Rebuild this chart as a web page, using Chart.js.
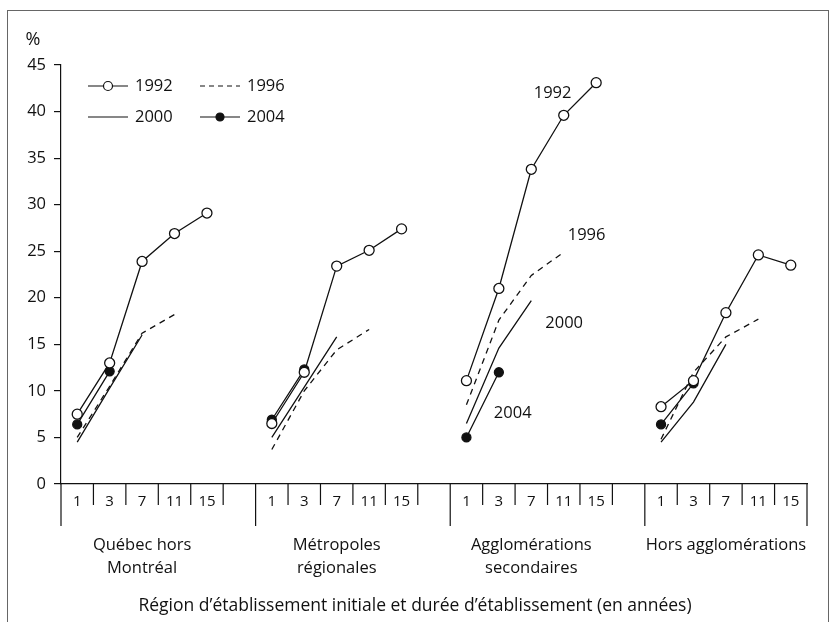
<!DOCTYPE html>
<html lang="fr">
<head>
    <meta charset="UTF-8">
    <title>Graphique</title>
    <script src="https://cdn.jsdelivr.net/npm/chart.js"></script>
    <style>
        body { margin: 0; background: #fff; }
        .frame {
            position: absolute; left: 7px; top: 10px; width: 822px; height: 620px;
            border: 1.5px solid #666; border-bottom: none; box-sizing: border-box;
        }
        .chart-container { position: absolute; left: 0; top: 0; width: 832px; height: 622px; }
    </style>
</head>
<body>
    <div class="frame"></div>
    <div class="chart-container">
        <canvas id="chart"></canvas>
    </div>

    <script>
        // durée d'établissement (en années), un bloc par région, case vide entre les blocs
        const categories = ['1', '3', '7', '11', '15', '',
                            '1', '3', '7', '11', '15', '',
                            '1', '3', '7', '11', '15', '',
                            '1', '3', '7', '11', '15'];
        const groupStarts = [0, 6, 12, 18];
        const groupLabels = [['Québec hors', 'Montréal'], ['Métropoles', 'régionales'],
                             ['Agglomérations', 'secondaires'], ['Hors agglomérations']];

        const s1992 = [7.5, 13.0, 23.9, 26.9, 29.1, null,
                       6.5, 12.0, 23.4, 25.1, 27.4, null,
                       11.1, 21.0, 33.8, 39.6, 43.1, null,
                       8.3, 11.1, 18.4, 24.6, 23.5];
        const s1996 = [5.0, 10.5, 16.2, 18.2, null, null,
                       3.7, 10.0, 14.4, 16.6, null, null,
                       8.5, 17.6, 22.4, 24.9, null, null,
                       4.8, 12.0, 15.8, 17.7, null];
        const s2000 = [4.5, 10.3, 16.0, null, null, null,
                       5.0, 10.4, 15.8, null, null, null,
                       6.5, 14.6, 19.7, null, null, null,
                       4.5, 8.8, 15.0, null, null];
        const s2004 = [6.4, 12.1, null, null, null, null,
                       6.9, 12.3, null, null, null, null,
                       5.0, 12.0, null, null, null, null,
                       6.4, 10.8, null, null, null];

        const FONT = "'Open Sans', sans-serif";
        const INK = '#111';

        // étiquettes des séries dans le bloc « Agglomérations secondaires »
        const seriesTags = [
            { text: '1992', ds: 0, idx: 15, dx: -30, dy: -22 },
            { text: '1996', ds: 1, idx: 15, dx: 4, dy: -17 },
            { text: '2000', ds: 2, idx: 14, dx: 14, dy: 23 },
            { text: '2004', ds: 3, idx: 13, dx: -5, dy: 41 }
        ];

        const extras = {
            id: 'extras',
            afterDraw(chart) {
                const c = chart.ctx;
                const x = chart.scales.x;
                const area = chart.chartArea;
                const half = (x.getPixelForValue(1) - x.getPixelForValue(0)) / 2;
                c.save();
                c.strokeStyle = INK;
                c.lineWidth = 1.2;

                // séparateurs sous l'axe
                const base = area.bottom;
                const line = (px, len) => {
                    c.beginPath(); c.moveTo(px, base); c.lineTo(px, base + len); c.stroke();
                };
                categories.forEach((lab, i) => {
                    const right = x.getPixelForValue(i) + half;
                    if (groupStarts.includes(i)) line(x.getPixelForValue(i) - half, 42);
                    if (lab !== '') line(right, i === categories.length - 1 ? 42 : 21);
                });

                // noms des régions
                c.fillStyle = INK;
                c.font = '16.5px ' + FONT;
                c.textAlign = 'center';
                c.textBaseline = 'middle';
                groupStarts.forEach((s, g) => {
                    const cx = (x.getPixelForValue(s) + x.getPixelForValue(s + 4)) / 2;
                    groupLabels[g].forEach((t, k) => c.fillText(t, cx, 545 + k * 23));
                });
                c.font = '17.5px ' + FONT;
                c.fillText('Région d’établissement initiale et durée d’établissement (en années)', 415, 606);

                // unité
                c.font = '18px ' + FONT;
                c.fillText('%', 33, 40);

                // étiquettes des séries
                c.font = '16.5px ' + FONT;
                c.textAlign = 'left';
                seriesTags.forEach(t => {
                    const p = chart.getDatasetMeta(t.ds).data[t.idx];
                    c.fillText(t.text, p.x + t.dx, p.y + t.dy);
                });

                // légende
                const items = [
                    { t: '1992', x: 88, y: 86, dash: [], dot: 'open' },
                    { t: '1996', x: 200, y: 86, dash: [5, 4], dot: null },
                    { t: '2000', x: 88, y: 117, dash: [], dot: null },
                    { t: '2004', x: 200, y: 117, dash: [], dot: 'filled' }
                ];
                items.forEach(it => {
                    c.setLineDash(it.dash);
                    c.beginPath(); c.moveTo(it.x, it.y); c.lineTo(it.x + 40, it.y); c.stroke();
                    c.setLineDash([]);
                    if (it.dot) {
                        c.beginPath();
                        c.arc(it.x + 20, it.y, it.dot === 'open' ? 4.5 : 4, 0, Math.PI * 2);
                        c.fillStyle = it.dot === 'open' ? '#fff' : INK;
                        c.fill(); c.stroke();
                    }
                    c.fillStyle = INK;
                    c.fillText(it.t, it.x + 47, it.y);
                });
                c.restore();
            }
        };

        const ctx = document.getElementById('chart').getContext('2d');
        new Chart(ctx, {
            type: 'line',
            data: {
                labels: categories,
                datasets: [
                    { label: '1992', data: s1992, borderColor: INK, borderWidth: 1.3,
                      pointRadius: 5, pointBackgroundColor: '#fff', pointBorderColor: INK, pointBorderWidth: 1.3 },
                    { label: '1996', data: s1996, borderColor: INK, borderWidth: 1.3, borderDash: [6, 5],
                      pointRadius: 0 },
                    { label: '2000', data: s2000, borderColor: INK, borderWidth: 1.3, pointRadius: 0 },
                    { label: '2004', data: s2004, borderColor: INK, borderWidth: 1.3,
                      pointRadius: 4.5, pointBackgroundColor: INK, pointBorderColor: INK }
                ]
            },
            options: {
                responsive: true,
                maintainAspectRatio: false,
                animation: false,
                spanGaps: false,
                layout: { padding: { top: 65, right: 25, left: 0, bottom: 0 } },
                plugins: { legend: { display: false }, tooltip: { enabled: false } },
                scales: {
                    x: {
                        offset: true,
                        grid: { display: false },
                        border: { display: true, color: INK, width: 1.2 },
                        ticks: { color: INK, font: { family: FONT, size: 15 }, autoSkip: false,
                                 maxRotation: 0, padding: 1 },
                        afterFit: s => { s.height = 138; }
                    },
                    y: {
                        min: 0, max: 45,
                        grid: { drawOnChartArea: false, tickLength: 7, color: INK, lineWidth: 1.2 },
                        border: { display: true, color: INK, width: 1.2 },
                        ticks: { stepSize: 5, color: INK, font: { family: FONT, size: 16.5 }, padding: 8 },
                        afterFit: s => { s.width = 61; }
                    }
                }
            },
            plugins: [extras]
        });
    </script>
</body>
</html>
